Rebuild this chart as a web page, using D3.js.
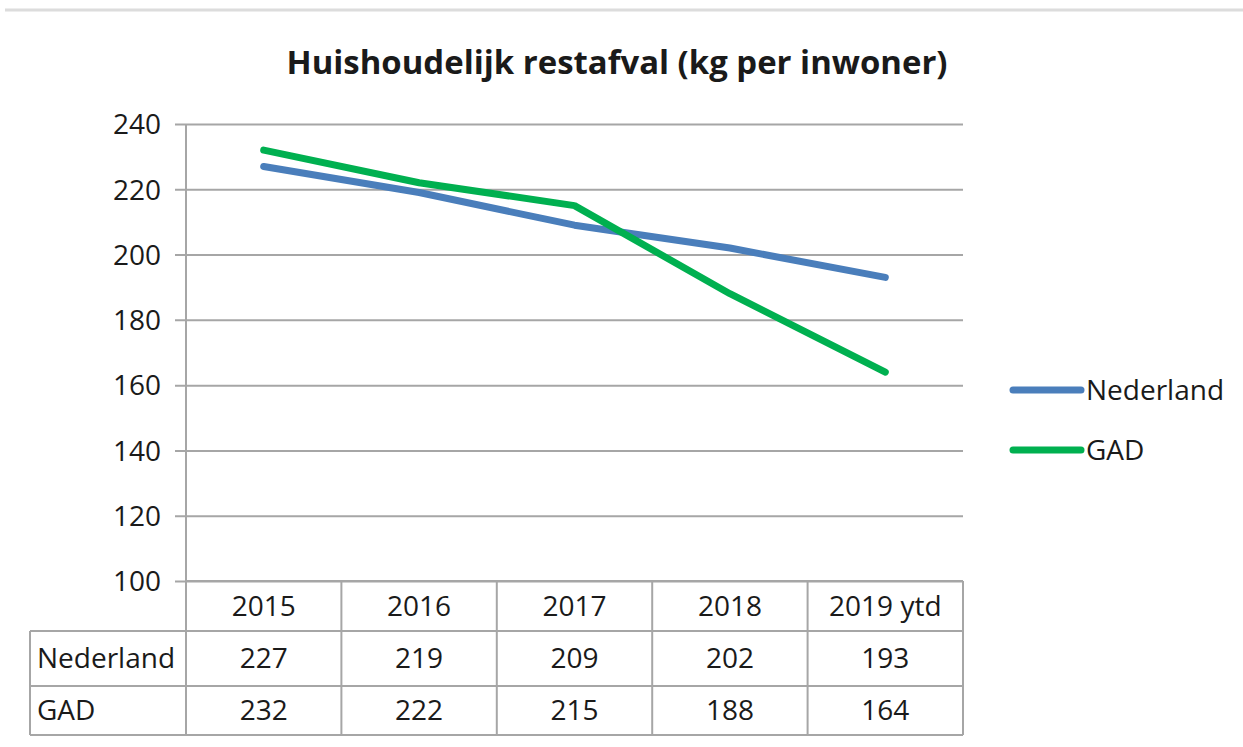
<!DOCTYPE html>
<html>
<head>
<meta charset="utf-8">
<script src="https://cdn.jsdelivr.net/npm/d3@7"></script>
<style>
  body { margin: 0; background: #fff; }
  svg text { font-family: "Open Sans", sans-serif; fill: #1a1a1a; }
</style>
</head>
<body>
<div id="chart"></div>
<script>
var years = ["2015", "2016", "2017", "2018", "2019 ytd"];
var nederland = [227, 219, 209, 202, 193];
var gad = [232, 222, 215, 188, 164];
var seriesNames = ["Nederland", "GAD"];
var seriesColors = ["#4a7ebb", "#00b050"];
var yTicks = [100, 120, 140, 160, 180, 200, 220, 240];

var width = 1243, height = 747;
var plotLeft = 186, plotRight = 963, plotTop = 124, plotBottom = 581;
var rowH = [50, 55, 49]; // header row, Nederland row, GAD row
var tableLeft = 30;
var fontSize = "28px";

var svg = d3.select("#chart").append("svg")
    .attr("width", width)
    .attr("height", height);

// top border line
svg.append("line")
    .attr("x1", 5).attr("x2", width)
    .attr("y1", 10).attr("y2", 10)
    .style("stroke", "#dcdcdc")
    .style("stroke-width", 3);

// title
svg.append("text")
    .attr("x", 617).attr("y", 74)
    .attr("text-anchor", "middle")
    .style("font-size", "32px")
    .style("font-weight", "bold")
    .attr("textLength", 661)
    .attr("lengthAdjust", "spacingAndGlyphs")
    .text("Huishoudelijk restafval (kg per inwoner)");

var x = d3.scaleBand().domain(years).range([plotLeft, plotRight]);
var y = d3.scaleLinear().domain([100, 240]).range([plotBottom, plotTop]);

// gridlines + y ticks
var yAxis = d3.axisLeft(y).tickValues(yTicks).tickSize(-(plotRight - plotLeft + 11)).tickPadding(14);
var gy = svg.append("g")
    .attr("transform", "translate(" + (plotLeft - 11) + ",0)")
    .call(yAxis);
gy.select(".domain").remove();
gy.selectAll(".tick line")
    .style("stroke", "#a6a6a6")
    .style("stroke-width", 2);
gy.selectAll(".tick text")
    .style("font-size", fontSize)
    .attr("dy", "0.35em")
    .style("fill", "#1a1a1a");

// y axis line (extends down through the table)
var tableBottom = plotBottom + rowH[0] + rowH[1] + rowH[2];
svg.append("line")
    .attr("x1", plotLeft).attr("x2", plotLeft)
    .attr("y1", plotTop).attr("y2", tableBottom)
    .style("stroke", "#a6a6a6").style("stroke-width", 2);

// data table
var tbl = svg.append("g");
var rowY = [plotBottom, plotBottom + rowH[0], plotBottom + rowH[0] + rowH[1], tableBottom];
var gridStyle = function(sel) { return sel.style("stroke", "#a6a6a6").style("stroke-width", 2); };

// horizontal lines
tbl.append("line").attr("x1", plotLeft).attr("x2", plotRight).attr("y1", rowY[0]).attr("y2", rowY[0]).call(gridStyle);
[1, 2, 3].forEach(function(r) {
    tbl.append("line").attr("x1", tableLeft).attr("x2", plotRight).attr("y1", rowY[r]).attr("y2", rowY[r]).call(gridStyle);
});
// vertical lines
tbl.append("line").attr("x1", tableLeft).attr("x2", tableLeft).attr("y1", rowY[1]).attr("y2", rowY[3]).call(gridStyle);
years.forEach(function(d) {
    var xr = x(d) + x.bandwidth();
    tbl.append("line").attr("x1", xr).attr("x2", xr).attr("y1", rowY[0]).attr("y2", rowY[3]).call(gridStyle);
});

// header labels
tbl.selectAll("text.year").data(years).enter()
    .append("text")
    .attr("class", "year")
    .attr("x", function(d) { return x(d) + x.bandwidth() / 2; })
    .attr("y", (rowY[0] + rowY[1]) / 2)
    .attr("dy", "0.35em")
    .attr("text-anchor", "middle")
    .style("font-size", fontSize)
    .text(function(d) { return d; });

var tableData = [nederland, gad];
tableData.forEach(function(vals, r) {
    var cy = (rowY[r + 1] + rowY[r + 2]) / 2;
    tbl.append("text")
        .attr("x", tableLeft + 7)
        .attr("y", cy)
        .attr("dy", "0.35em")
        .style("font-size", fontSize)
        .text(seriesNames[r]);
    tbl.selectAll("text.v" + r).data(vals).enter()
        .append("text")
        .attr("x", function(d, i) { return x(years[i]) + x.bandwidth() / 2; })
        .attr("y", cy)
        .attr("dy", "0.35em")
        .attr("text-anchor", "middle")
        .style("font-size", fontSize)
        .text(function(d) { return d; });
});

// lines
var line = d3.line()
    .x(function(d, i) { return x(years[i]) + x.bandwidth() / 2; })
    .y(function(d) { return y(d); });

[nederland, gad].forEach(function(vals, s) {
    svg.append("path")
        .datum(vals)
        .attr("d", line)
        .style("fill", "none")
        .style("stroke", seriesColors[s])
        .style("stroke-width", 7)
        .style("stroke-linecap", "round")
        .style("stroke-linejoin", "round");
});

// legend
var legendY = [390, 450];
seriesNames.forEach(function(name, s) {
    svg.append("line")
        .attr("x1", 1013).attr("x2", 1081)
        .attr("y1", legendY[s]).attr("y2", legendY[s])
        .style("stroke", seriesColors[s])
        .style("stroke-width", 7)
        .style("stroke-linecap", "round");
    svg.append("text")
        .attr("x", 1086).attr("y", legendY[s])
        .attr("dy", "0.35em")
        .style("font-size", fontSize)
        .text(name);
});
</script>
</body>
</html>
